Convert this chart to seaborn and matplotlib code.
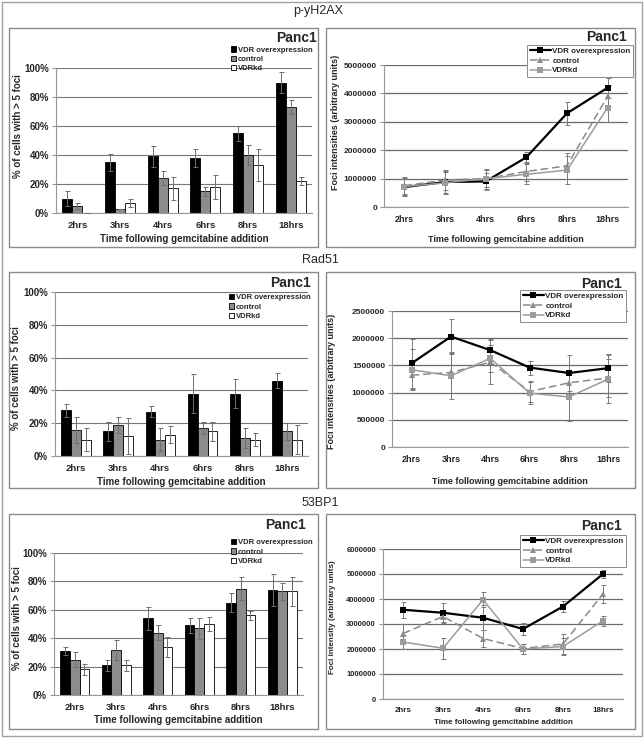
import numpy as np
import pandas as pd
import matplotlib
matplotlib.use('Agg')
import matplotlib.pyplot as plt
from matplotlib.patches import Rectangle
from matplotlib.ticker import FixedLocator, FuncFormatter
import seaborn as sns

W, H = 644, 738

times = ['2hrs', '3hrs', '4hrs', '6hrs', '8hrs', '18hrs']
groups = ['VDR overexpression', 'control', 'VDRkd']

# p-yH2AX, % cells with > 5 foci
h2ax_pct_vdr = [10, 35, 39, 38, 55, 90]
h2ax_pct_ctl = [5, 3, 24, 15, 40, 73]
h2ax_pct_kd = [0, 7, 17, 18, 33, 22]
h2ax_pct_vdr_err = [5, 6, 7, 6, 5, 7]
h2ax_pct_ctl_err = [2, 0, 5, 3, 7, 5]
h2ax_pct_kd_err = [0, 3, 8, 8, 11, 3]

# p-yH2AX, foci intensities
h2ax_int_vdr = [700000, 880000, 900000, 1750000, 3300000, 4200000]
h2ax_int_ctl = [750000, 950000, 1000000, 1250000, 1450000, 3900000]
h2ax_int_kd = [720000, 850000, 1000000, 1150000, 1300000, 3500000]
h2ax_int_vdr_err = [300000, 400000, 300000, 200000, 400000, 350000]
h2ax_int_ctl_err = [300000, 350000, 350000, 350000, 450000, 350000]
h2ax_int_kd_err = [300000, 400000, 300000, 350000, 500000, 500000]

# Rad51, % cells with > 5 foci
rad51_pct_vdr = [28, 15, 27, 38, 38, 46]
rad51_pct_ctl = [16, 19, 10, 17, 11, 15]
rad51_pct_kd = [10, 12, 13, 15, 10, 10]
rad51_pct_vdr_err = [4, 6, 3.5, 12, 9, 4.5]
rad51_pct_ctl_err = [8, 5, 7, 3.5, 6, 5]
rad51_pct_kd_err = [7, 11, 5, 6, 4, 9]

# Rad51, foci intensities
rad51_int_vdr = [1540000, 2030000, 1780000, 1460000, 1360000, 1450000]
rad51_int_ctl = [1320000, 1370000, 1560000, 1020000, 1180000, 1270000]
rad51_int_kd = [1420000, 1310000, 1630000, 990000, 920000, 1250000]
rad51_int_vdr_err = [450000, 320000, 200000, 130000, 330000, 260000]
rad51_int_ctl_err = [250000, 370000, 400000, 200000, 200000, 350000]
rad51_int_kd_err = [380000, 420000, 250000, 200000, 450000, 440000]

# 53BP1, % cells with > 5 foci
bp1_pct_vdr = [31, 21, 54, 49, 65, 74]
bp1_pct_ctl = [25, 32, 44, 47, 75, 73]
bp1_pct_kd = [18, 21, 34, 50, 56, 73]
bp1_pct_vdr_err = [3, 4, 8, 5.5, 6.5, 11]
bp1_pct_ctl_err = [5, 7, 5, 7.5, 8, 6]
bp1_pct_kd_err = [4, 4, 7, 5, 3.5, 10]

# 53BP1, foci intensity
bp1_int_vdr = [3570000, 3450000, 3250000, 2800000, 3700000, 5000000]
bp1_int_ctl = [2620000, 3300000, 2420000, 2020000, 2200000, 4200000]
bp1_int_kd = [2280000, 2030000, 3970000, 2000000, 2100000, 3130000]
bp1_int_vdr_err = [330000, 380000, 500000, 250000, 230000, 150000]
bp1_int_ctl_err = [380000, 250000, 330000, 200000, 400000, 350000]
bp1_int_kd_err = [280000, 430000, 300000, 200000, 350000, 200000]

bar_colors = {'VDR overexpression': '#000000', 'control': '#8c8c8c', 'VDRkd': '#ffffff'}
line_colors = {'VDR overexpression': '#000000', 'control': '#8a8a8a', 'VDRkd': '#9c9c9c'}

sns.set_theme(style='white')
plt.rcParams['font.family'] = ['Liberation Sans', 'DejaVu Sans']


def px_axes(fig, x0, y0, x1, y1):
    return fig.add_axes([x0 / W, 1 - y1 / H, (x1 - x0) / W, (y1 - y0) / H])


def px_box(fig, x0, y0, x1, y1, color='#8a8a8a', lw=1.0):
    fig.patches.append(Rectangle((x0 / W, 1 - y1 / H), (x1 - x0) / W, (y1 - y0) / H,
                                 transform=fig.transFigure, fill=False, ec=color, lw=lw))


def style_axis(ax, ytick_size, xtick_size):
    for s in ['top', 'right']:
        ax.spines[s].set_visible(False)
    for s in ['left', 'bottom']:
        ax.spines[s].set_color('#999999')
        ax.spines[s].set_linewidth(0.8)
    ax.set_xlim(-0.5, 5.5)
    ax.xaxis.set_minor_locator(FixedLocator(np.arange(-0.5, 6, 1)))
    ax.tick_params(axis='x', which='major', length=0, labelsize=xtick_size, pad=6)
    ax.tick_params(axis='x', which='minor', length=3, color='#999999', width=0.8)
    ax.tick_params(axis='y', which='major', length=3, color='#999999', width=0.8,
                   labelsize=ytick_size, pad=2, left=True)
    for lab in ax.get_xticklabels() + ax.get_yticklabels():
        lab.set_fontweight('bold')
    ax.yaxis.grid(True, color='#777777', lw=0.8)
    ax.xaxis.grid(False)
    ax.set_axisbelow(True)


def place_labels(ax, box, xlab_y, ylab_x, ylab_y, xlabel, ylabel, xsize, ysize):
    x0, y0, x1, y1 = box
    ax.set_xlabel(xlabel, fontsize=xsize, fontweight='bold', va='center')
    ax.set_ylabel(ylabel, fontsize=ysize, fontweight='bold', va='center')
    ax.xaxis.set_label_coords(0.5, (y1 - xlab_y) / (y1 - y0))
    ax.yaxis.set_label_coords((ylab_x - x0) / (x1 - x0), (y1 - ylab_y) / (y1 - y0))


def bar_panel(fig, box, vals, errs, leg_xy, panc_xy, xlab_y, ylab_xy):
    ax = px_axes(fig, *box)
    df = pd.DataFrame({'time': np.tile(times, 3),
                       'group': np.repeat(groups, 6),
                       'pct': np.concatenate(vals)})
    sns.barplot(data=df, x='time', y='pct', hue='group', order=times, hue_order=groups,
                palette=bar_colors, width=0.7, errorbar=None, edgecolor='black',
                linewidth=0.6, saturation=1, ax=ax)
    for cont, err in zip(ax.containers, errs):
        xs = [p.get_x() + p.get_width() / 2 for p in cont]
        ys = [p.get_height() for p in cont]
        ax.errorbar(xs, ys, yerr=err, fmt='none', ecolor='#6e6e6e',
                    elinewidth=0.7, capsize=1.8, capthick=0.7, zorder=3)
    ax.set_ylim(0, 100)
    ax.set_yticks(np.arange(0, 101, 20))
    ax.yaxis.set_major_formatter(FuncFormatter(lambda v, p: f'{v:.0f}%'))
    style_axis(ax, 7, 6.8)
    handles, labels = ax.get_legend_handles_labels()
    ax.legend(handles, labels, loc='upper right',
              bbox_to_anchor=(leg_xy[0] / W, 1 - leg_xy[1] / H),
              bbox_transform=fig.transFigure, frameon=False,
              prop={'size': 5.5, 'weight': 'bold'}, handlelength=0.7, handleheight=0.7,
              handletextpad=0.25, labelspacing=0.25, borderaxespad=0, borderpad=0)
    fig.text(panc_xy[0] / W, 1 - panc_xy[1] / H, 'Panc1', ha='right', va='center',
             fontsize=10, fontweight='bold')
    place_labels(ax, box, xlab_y, ylab_xy[0], ylab_xy[1],
                 'Time following gemcitabine addition', '% of cells with > 5 foci', 7, 7)
    return ax


def line_panel(fig, box, vals, errs, ymax, ystep, leg_xy, panc_xy, xlab_y, ylab_xy,
               ylabel, ysize=6, xsize=6.5, lab_size=6.5):
    ax = px_axes(fig, *box)
    df = pd.DataFrame({'time': np.tile(times, 3),
                       'group': np.repeat(groups, 6),
                       'val': np.concatenate(vals)})
    for g, v, e in zip(groups, vals, errs):
        ax.errorbar(times, v, yerr=e, fmt='none', ecolor='#7a7a7a',
                    elinewidth=0.7, capsize=1.8, capthick=0.7, zorder=2)
    sns.lineplot(data=df, x='time', y='val', hue='group', style='group', size='group',
                 hue_order=groups, style_order=groups, size_order=groups,
                 palette=line_colors,
                 sizes={'VDR overexpression': 1.6, 'control': 1.1, 'VDRkd': 1.1},
                 markers={'VDR overexpression': 's', 'control': '^', 'VDRkd': 's'},
                 dashes={'VDR overexpression': '', 'control': (5, 2.5), 'VDRkd': ''},
                 markersize=4.5, markeredgewidth=0, sort=False, ax=ax, zorder=3)
    ax.set_ylim(0, ymax)
    ax.set_yticks(np.arange(0, ymax + 1, ystep))
    ax.yaxis.set_major_formatter(FuncFormatter(lambda v, p: f'{v:.0f}'))
    style_axis(ax, ysize, xsize)
    ax.yaxis.grid(True, color='#6a6a6a', lw=0.9)
    handles, labels = ax.get_legend_handles_labels()
    keep = [(h, l) for h, l in zip(handles, labels) if l in groups]
    for h, _ in keep:
        h.set_markersize(4)
        h.set_markeredgewidth(0)
    ax.legend([h for h, _ in keep], [l for _, l in keep], loc='upper right',
              bbox_to_anchor=(leg_xy[0] / W, 1 - leg_xy[1] / H),
              bbox_transform=fig.transFigure, frameon=True, fancybox=False,
              edgecolor='#8a8a8a', framealpha=1, facecolor='white',
              prop={'size': 5.8, 'weight': 'bold'}, handlelength=2.6,
              handletextpad=0.2, labelspacing=0.25, borderaxespad=0, borderpad=0.3)
    ax.get_legend().get_frame().set_linewidth(0.7)
    fig.text(panc_xy[0] / W, 1 - panc_xy[1] / H, 'Panc1', ha='right', va='center',
             fontsize=10, fontweight='bold')
    place_labels(ax, box, xlab_y, ylab_xy[0], ylab_xy[1],
                 'Time following gemcitabine addition', ylabel, lab_size, lab_size)
    return ax


fig = plt.figure(figsize=(W / 100, H / 100), dpi=100)

# frames
px_box(fig, 2, 2, 642, 736, color='#a0a0a0', lw=1.0)
px_box(fig, 9, 28, 318, 247)
px_box(fig, 326, 28, 635, 247)
px_box(fig, 9, 272, 318, 488)
px_box(fig, 326, 272, 635, 488)
px_box(fig, 9, 514, 318, 729)
px_box(fig, 326, 514, 635, 729)

fig.text(318 / W, 1 - 11 / H, 'p-yH2AX', ha='center', va='center', fontsize=9)
fig.text(320 / W, 1 - 260 / H, 'Rad51', ha='center', va='center', fontsize=9)
fig.text(320 / W, 1 - 503 / H, '53BP1', ha='center', va='center', fontsize=9)

# row 1
bar_panel(fig, (56, 68, 312, 213),
          [h2ax_pct_vdr, h2ax_pct_ctl, h2ax_pct_kd],
          [h2ax_pct_vdr_err, h2ax_pct_ctl_err, h2ax_pct_kd_err],
          leg_xy=(313, 46.5), panc_xy=(317, 38.5), xlab_y=239, ylab_xy=(18, 126))
line_panel(fig, (384, 65, 628, 207),
           [h2ax_int_vdr, h2ax_int_ctl, h2ax_int_kd],
           [h2ax_int_vdr_err, h2ax_int_ctl_err, h2ax_int_kd_err],
           5000000, 1000000, leg_xy=(633, 45), panc_xy=(627, 37), xlab_y=240,
           ylab_xy=(335, 122), ylabel='Foci intensities (arbitrary units)')

# row 2
bar_panel(fig, (55, 292, 308, 456),
          [rad51_pct_vdr, rad51_pct_ctl, rad51_pct_kd],
          [rad51_pct_vdr_err, rad51_pct_ctl_err, rad51_pct_kd_err],
          leg_xy=(311, 294), panc_xy=(311, 283), xlab_y=482, ylab_xy=(16, 378))
line_panel(fig, (392, 311, 628, 447),
           [rad51_int_vdr, rad51_int_ctl, rad51_int_kd],
           [rad51_int_vdr_err, rad51_int_ctl_err, rad51_int_kd_err],
           2500000, 500000, leg_xy=(626, 290), panc_xy=(622, 284), xlab_y=481,
           ylab_xy=(332, 381), ylabel='Foci intensities (arbitrary units)')

# row 3
bar_panel(fig, (54, 553, 303, 695),
          [bp1_pct_vdr, bp1_pct_ctl, bp1_pct_kd],
          [bp1_pct_vdr_err, bp1_pct_ctl_err, bp1_pct_kd_err],
          leg_xy=(313, 539), panc_xy=(306, 525), xlab_y=720, ylab_xy=(17, 618))
line_panel(fig, (383, 549, 623, 699),
           [bp1_int_vdr, bp1_int_ctl, bp1_int_kd],
           [bp1_int_vdr_err, bp1_int_ctl_err, bp1_int_kd_err],
           6000000, 1000000, leg_xy=(626, 535), panc_xy=(622, 526), xlab_y=723,
           ylab_xy=(333, 617), ylabel='Foci intensity (arbitrary units)',
           ysize=5.5, xsize=5.8, lab_size=5.8)

fig.savefig('out.png', dpi=100)
